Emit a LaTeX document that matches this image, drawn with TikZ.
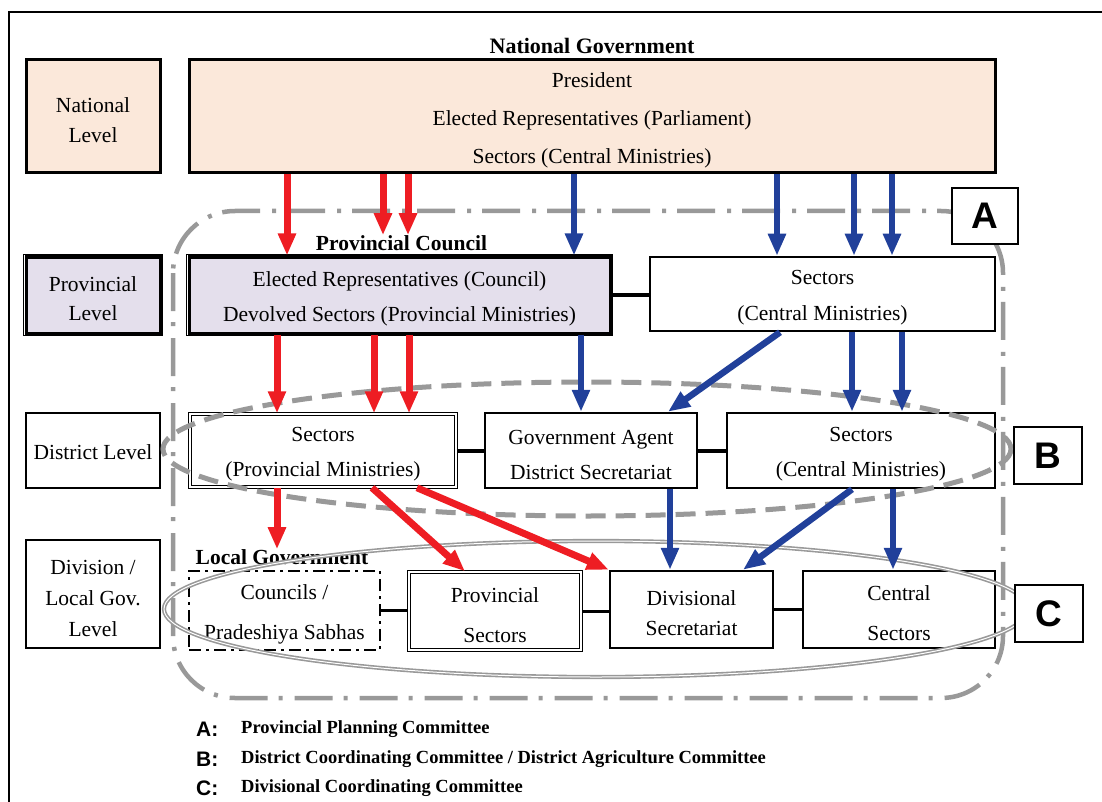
\documentclass[tikz,border=0pt]{standalone}
\usepackage{fontspec}
\setmainfont{Liberation Serif}
\newfontfamily\lsans{Liberation Sans}
\usetikzlibrary{arrows.meta,calc}

\definecolor{peach}{HTML}{FBE8DA}
\definecolor{lavender}{HTML}{E4DFEC}
\definecolor{arrred}{HTML}{EE1D23}
\definecolor{arrblue}{HTML}{21409A}
\definecolor{cgray}{HTML}{999999}

\begin{document}
\begin{tikzpicture}[x=1pt,y=-1pt,
  txt/.style={font=\fontsize{21.5}{#1}\selectfont, align=center, inner sep=0pt, yshift=-4pt},
  txt/.default=35,
  box/.style={draw, line width=2.5pt, fill=white},
  natbox/.style={draw, line width=3pt, fill=peach},
  provbox/.style={draw, line width=3pt, fill=lavender},
  dblbox/.style={draw, line width=1.5pt, double=white, double distance=1.5pt},
  dashbox/.style={draw, line width=2.5pt, fill=white, dash pattern=on 12pt off 5pt on 3pt off 5pt},
  lvlbox/.style={draw, line width=2pt, fill=white},
  title/.style={font=\bfseries\fontsize{21.5}{21.5}\selectfont, inner sep=0pt},
  letterbox/.style={draw, line width=2pt, fill=white, inner sep=0pt,
    font=\lsans\bfseries\fontsize{37}{37}\selectfont},
  legkey/.style={anchor=west, inner sep=0pt, font=\lsans\bfseries\fontsize{21}{21}\selectfont},
  legtxt/.style={anchor=west, inner sep=0pt, font=\bfseries\fontsize{18.5}{18.5}\selectfont},
  conn/.style={line width=#1},
  conn/.default=4pt,
  redarr/.style={draw=arrred, line width=7pt, -{Triangle[length=22pt,width=17pt]}},
  bluearr/.style={draw=arrblue, line width=6.5pt, -{Triangle[length=22pt,width=17pt]}},
  grpA/.style={draw=cgray, line width=4.5pt, rounded corners=62pt,
    dash pattern=on 38pt off 11pt on 4pt off 12pt},
  grpB/.style={draw=cgray, line width=5pt, dash pattern=on 20pt off 10pt},
  grpC/.style={draw=cgray, line width=1.6pt, double=white, double distance=1pt}
]
\useasboundingbox (0,0) rectangle (1102,802);
\fill[white] (0,0) rectangle (1102,802);
% outer frame
\draw[line width=2pt] (9,802) -- (9,12) -- (1102,12);

% ---- national level
\node[natbox, minimum width=134pt, minimum height=113pt] (natlvl) at (93,116.5) {};
\node[txt=30] (natlvlt) at (natlvl.center) {National\\Level};
\node[natbox, minimum width=806pt, minimum height=113pt] (natgov) at (592,116.5) {};
\node[txt=38] (natgovt) at (natgov.center)
  {President\\Elected Representatives (Parliament)\\Sectors (Central Ministries)};
\node[title, font=\bfseries\fontsize{22}{22}\selectfont] (natlbl) at (592,46) {National Government};

% ---- provincial level
\node[provbox, minimum width=134pt, minimum height=76pt] (provlvl) at (93,295) {};
\node[txt=29] (provlvlt) at (provlvl.center) {Provincial\\Level};
\node[provbox, minimum width=421pt, minimum height=76pt] (provc) at (399.5,295) {};
\node[txt=35] (provct) at (provc.center)
  {Elected Representatives (Council)\\Devolved Sectors (Provincial Ministries)};
\draw[line width=0.8pt] ([shift={(-1.2,-1.2)}]provlvl.north west) rectangle ([shift={(1.2,1.2)}]provlvl.south east);
\draw[line width=0.8pt] ([shift={(-1.2,-1.2)}]provc.north west) rectangle ([shift={(1.2,1.2)}]provc.south east);
\node[title] (pcl) at (401.5,243) {Provincial Council};
\node[box, minimum width=345pt, minimum height=74pt] (provsec) at (822.5,294) {};
\node[txt=36] (provsect) at (provsec.center) {Sectors\\(Central Ministries)};

% ---- district level
\node[lvlbox, minimum width=134pt, minimum height=75pt] (distlvl) at (93,450.5) {};
\node[txt, yshift=2pt] (distlvlt) at (distlvl.center) {District Level};
\node[dblbox, minimum width=266pt, minimum height=73pt] (distsec) at (323,450.5) {};
\node[txt=35] (distsect) at (distsec.center) {Sectors\\(Provincial Ministries)};
\node[box, minimum width=212pt, minimum height=75pt] (ga) at (591,450.5) {};
\node[txt=35] (gat) at (ga.center) {Government Agent\\District Secretariat};
\node[box, minimum width=268pt, minimum height=75pt] (distcen) at (861,450.5) {};
\node[txt=35] (distcent) at (distcen.center) {Sectors\\(Central Ministries)};

% ---- division / local government level
\node[lvlbox, minimum width=134pt, minimum height=108pt] (divlvl) at (93,594) {};
\node[txt=31] (divlvlt) at (divlvl.center) {Division /\\Local Gov.\\Level};
\node[title] (lg) at (282,557) {Local Government};
\node[dashbox, minimum width=191pt, minimum height=79pt] (councils) at (284.5,610.5) {};
\node[txt=40] (councilst) at (councils.center) {Councils /\\Pradeshiya Sabhas};
\node[dblbox, minimum width=172pt, minimum height=78pt] (provsecl) at (495,611) {};
\node[txt=40] (provseclt) at (provsecl.center) {Provincial\\Sectors};
\node[box, minimum width=163pt, minimum height=77pt] (divsec) at (691.5,609.5) {};
\node[txt=30] (divsect) at (divsec.center) {Divisional\\Secretariat};
\node[box, minimum width=192pt, minimum height=77pt] (censec) at (899,609.5) {};
\node[txt=40] (censect) at (censec.center) {Central\\Sectors};

% ---- horizontal links
\draw[conn] (provc.east) -- (provc.east -| provsec.west);
\draw[conn] (distsec.east) -- (distsec.east -| ga.west);
\draw[conn] (ga.east) -- (ga.east -| distcen.west);
\draw[conn=3pt] (councils.east) -- (councils.east -| provsecl.west);
\draw[conn=3pt] (provsecl.east) -- (provsecl.east -| divsec.west);
\draw[conn=3pt] (divsec.east) -- (divsec.east -| censec.west);

% ---- committee groupings
\draw[grpA] (173,211) rectangle (1003,698);
\draw[grpB] (587,449) ellipse [x radius=424, y radius=67];
\draw[grpC] (596,609) ellipse [x radius=432, y radius=68];

% ---- national to provincial
\draw[redarr] (natgov.south -| 287,0) -- (provc.north -| 287,0);
\draw[redarr] (natgov.south -| 383,0) -- (pcl.north -| 383,0);
\draw[redarr] (natgov.south -| 408,0) -- (pcl.north -| 408,0);
\draw[bluearr] (natgov.south -| 574,0) -- (provc.north -| 574,0);
\draw[bluearr] (natgov.south -| 777,0) -- (provsec.north -| 777,0);
\draw[bluearr] (natgov.south -| 854,0) -- (provsec.north -| 854,0);
\draw[bluearr] (natgov.south -| 892,0) -- (provsec.north -| 892,0);

% ---- provincial to district
\draw[redarr] (provc.south -| 277,0) -- (distsec.north -| 277,0);
\draw[redarr] (provc.south -| 374,0) -- (distsec.north -| 374,0);
\draw[redarr] (provc.south -| 409,0) -- (distsec.north -| 409,0);
\draw[bluearr] (provc.south -| 581,0) -- (ga.north -| 581,0);
\draw[bluearr] (provsec.south -| 780,0) -- (ga.north -| 668,0);
\draw[bluearr] (provsec.south -| 852,0) -- (distcen.north -| 852,0);
\draw[bluearr] (provsec.south -| 902,0) -- (distcen.north -| 902,0);

% ---- district to division
\draw[redarr] (distsec.south -| 277,0) -- (lg.north -| 277,0);
\draw[redarr] (distsec.south -| 372,0) -- (provsecl.north -| 465,0);
\draw[redarr] (distsec.south -| 417,0) -- (divsec.north west);
\draw[bluearr] (ga.south -| 670,0) -- (divsec.north -| 670,0);
\draw[bluearr] (distcen.south -| 852,0) -- (divsec.north -| 743,0);
\draw[bluearr] (distcen.south -| 893,0) -- (censec.north -| 893,0);

% ---- committee tags
\node[letterbox, minimum width=66pt, minimum height=56pt] (tagA) at (985,216) {A};
\node[letterbox, minimum width=68pt, minimum height=57pt] (tagB) at (1048,455.5) {B};
\node[letterbox, minimum width=68pt, minimum height=57pt] (tagC) at (1049,613.5) {C};

% ---- key
\node[legkey] (keyA) at (196,729) {A:};
\node[legtxt] (keyAt) at (241,729) {Provincial Planning Committee};
\node[legkey] (keyB) at (196,759) {B:};
\node[legtxt] (keyBt) at (241,759) {District Coordinating Committee / District Agriculture Committee};
\node[legkey] (keyC) at (196,788) {C:};
\node[legtxt] (keyCt) at (241,788) {Divisional Coordinating Committee};
\end{tikzpicture}
\end{document}
